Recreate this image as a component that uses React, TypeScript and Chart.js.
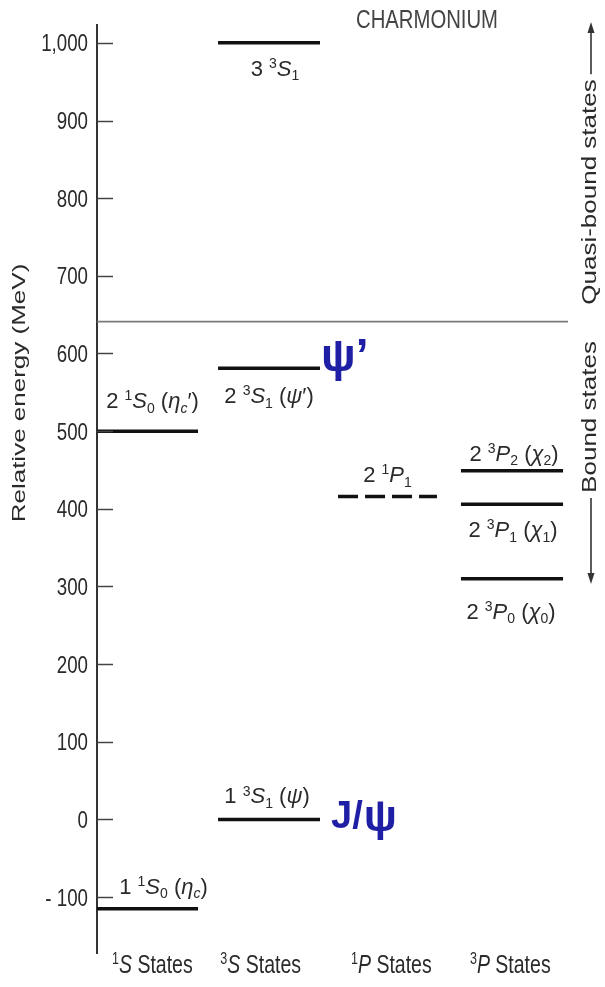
import { useEffect, useRef } from 'react';
import { Chart, registerables } from 'chart.js';

Chart.register(...registerables);

// ---------- data ----------
const categories = ['^1*S* States', '^3*S* States', '^1*P* States', '^3*P* States'];
const yTickValues = [-100, 0, 100, 200, 300, 400, 500, 600, 700, 800, 900, 1000];
const levelNames = [
  '1 ^1*S*_0 (*η_c*)',
  '2 ^1*S*_0 (*η_c*′)',
  '1 ^3*S*_1 (*ψ*)',
  '2 ^3*S*_1 (*ψ*′)',
  '3 ^3*S*_1',
  '2 ^1*P*_1',
  '2 ^3*P*_2 (*χ*_2)',
  '2 ^3*P*_1 (*χ*_1)',
  '2 ^3*P*_0 (*χ*_0)',
];
const levelEnergies = [-115, 500, 0, 581, 1000, 416, 449, 406, 310];
const levelColumns = [0, 0, 1, 1, 1, 2, 3, 3, 3];
const levelDashed = [false, false, false, false, false, true, false, false, false];
const thresholdEnergy = 641;
const chartTitle = 'CHARMONIUM';
const yAxisTitle = 'Relative energy (MeV)';
const regionLabels = ['Quasi-bound states', 'Bound states'];
const highlightNames = ['ψ’', 'J/ψ'];
const highlightLevels = [3, 2];

// ---------- layout / style ----------
const W = 605;
const H = 987;
const FAMILY = "'Liberation Sans', Arial, sans-serif";
const X_MIN = 0;
const X_MAX = 4;
const Y_MIN = -172;
const Y_MAX = 1023;
const COLUMN_SPANS = [
  [0, 0.858],
  [1.028, 1.894],
  [2.047, 2.887],
  [3.091, 3.958],
];
const CATEGORY_X = [0.47, 1.39, 2.5, 3.51];
// label placement relative to its level line: [dx px, baseline dy px]
const LABEL_OFFSETS = [
  [16, -15],
  [5, -23],
  [-2, -16],
  [0, 35],
  [6, 33],
  [0, -14],
  [2, -10],
  [1, 33],
  [-1, 40],
];
const INK = '#111';
const TEXT = '#2a2a2a';
const BLUE = '#1f1fa6';

type Seg = { t: string; it: boolean; pos: number };

function parseRich(s: string): Seg[] {
  const out: Seg[] = [];
  let it = false;
  for (let i = 0; i < s.length; i++) {
    const c = s[i];
    if (c === '*') {
      it = !it;
      continue;
    }
    let pos = 0;
    let ch = c;
    if ((c === '^' || c === '_') && i + 1 < s.length) {
      pos = c === '^' ? 1 : -1;
      i++;
      ch = s[i];
    }
    const last = out[out.length - 1];
    if (last && last.it === it && last.pos === pos) last.t += ch;
    else out.push({ t: ch, it, pos });
  }
  return out;
}

function drawRich(
  ctx: CanvasRenderingContext2D,
  s: string,
  x: number,
  y: number,
  size: number,
  align: string,
  sx: number,
  color: string
) {
  const segs = parseRich(s);
  ctx.save();
  ctx.translate(x, y);
  ctx.scale(sx, 1);
  ctx.fillStyle = color;
  ctx.textBaseline = 'alphabetic';
  ctx.textAlign = 'left';
  const fontOf = (g: Seg) =>
    `${g.it ? 'italic ' : ''}${g.pos ? Math.round(size * 0.62) : size}px ${FAMILY}`;
  const ws: number[] = [];
  let total = 0;
  for (const g of segs) {
    ctx.font = fontOf(g);
    const w = ctx.measureText(g.t).width;
    ws.push(w);
    total += w;
  }
  let cx = align === 'center' ? -total / 2 : align === 'right' ? -total : 0;
  segs.forEach((g, i) => {
    ctx.font = fontOf(g);
    const dy = g.pos === 1 ? -size * 0.36 : g.pos === -1 ? size * 0.2 : 0;
    ctx.fillText(g.t, cx, dy);
    cx += ws[i];
  });
  ctx.restore();
}

function drawVertical(
  ctx: CanvasRenderingContext2D,
  s: string,
  x: number,
  y: number,
  size: number,
  across: number,
  color: string
) {
  ctx.save();
  ctx.translate(x, y);
  ctx.rotate(-Math.PI / 2);
  ctx.scale(1, across);
  ctx.fillStyle = color;
  ctx.font = `${size}px ${FAMILY}`;
  ctx.textAlign = 'center';
  ctx.textBaseline = 'middle';
  ctx.fillText(s, 0, 0);
  const w = ctx.measureText(s).width;
  ctx.restore();
  return w;
}

function arrow(ctx: CanvasRenderingContext2D, x: number, y0: number, y1: number, color: string) {
  // line from y0 to y1, head at y1
  const dir = y1 > y0 ? 1 : -1;
  ctx.save();
  ctx.strokeStyle = color;
  ctx.fillStyle = color;
  ctx.lineWidth = 1.6;
  ctx.beginPath();
  ctx.moveTo(x, y0);
  ctx.lineTo(x, y1 - dir * 8);
  ctx.stroke();
  ctx.beginPath();
  ctx.moveTo(x, y1);
  ctx.lineTo(x - 3.5, y1 - dir * 11);
  ctx.lineTo(x + 3.5, y1 - dir * 11);
  ctx.closePath();
  ctx.fill();
  ctx.restore();
}

const annotationPlugin = {
  id: 'charmoniumAnnotations',
  afterDraw(chart: any) {
    const ctx: CanvasRenderingContext2D = chart.ctx;
    const xs = chart.scales.x;
    const ys = chart.scales.y;
    const area = chart.chartArea;

    // inner tick marks + tick labels
    ctx.save();
    ctx.strokeStyle = '#444';
    ctx.lineWidth = 1.5;
    yTickValues.forEach((v) => {
      const py = Math.round(ys.getPixelForValue(v)) + 0.5;
      ctx.beginPath();
      ctx.moveTo(area.left, py);
      ctx.lineTo(area.left + 16, py);
      ctx.stroke();
    });
    ctx.restore();
    yTickValues.forEach((v) => {
      const py = ys.getPixelForValue(v);
      const label = v < 0 ? '- ' + Math.abs(v) : v.toLocaleString('en-US');
      drawRich(ctx, label, area.left - 9, py + 8.5, 24, 'right', 0.78, TEXT);
    });

    // category labels
    categories.forEach((c, i) => {
      drawRich(ctx, c, xs.getPixelForValue(CATEGORY_X[i]), 973, 25, 'center', 0.78, TEXT);
    });

    // level labels
    levelNames.forEach((name, i) => {
      const span = COLUMN_SPANS[levelColumns[i]];
      const cx = (xs.getPixelForValue(span[0]) + xs.getPixelForValue(span[1])) / 2;
      const py = ys.getPixelForValue(levelEnergies[i]);
      const [dx, dy] = LABEL_OFFSETS[i];
      drawRich(ctx, name, cx + dx, py + dy, 22, 'center', 1.0, TEXT);
    });

    // highlighted names (blue)
    {
      const i = highlightLevels[0];
      const span = COLUMN_SPANS[levelColumns[i]];
      const x = xs.getPixelForValue(span[1]) + 1;
      const py = ys.getPixelForValue(levelEnergies[i]);
      ctx.save();
      ctx.fillStyle = BLUE;
      ctx.textAlign = 'left';
      ctx.textBaseline = 'alphabetic';
      ctx.font = `bold 46px ${FAMILY}`;
      ctx.fillText(highlightNames[0], x, py + 3);
      ctx.restore();
    }
    {
      const i = highlightLevels[1];
      const span = COLUMN_SPANS[levelColumns[i]];
      const x = xs.getPixelForValue(span[1]) + 11;
      const py = ys.getPixelForValue(levelEnergies[i]);
      const txt = highlightNames[1];
      ctx.save();
      ctx.fillStyle = BLUE;
      ctx.textAlign = 'left';
      ctx.textBaseline = 'alphabetic';
      ctx.font = `bold 38px ${FAMILY}`;
      const head = txt.slice(0, 2);
      ctx.fillText(head, x, py + 9);
      const hw = ctx.measureText(head).width;
      ctx.font = `bold 44px ${FAMILY}`;
      ctx.fillText(txt.slice(2), x + hw + 1, py + 12);
      ctx.restore();
    }

    // title
    drawRich(ctx, chartTitle, 427, 28, 26, 'center', 0.78, '#444');

    // y axis title
    drawVertical(ctx, yAxisTitle, 20, 393, 26, 0.74, TEXT);

    // right side region labels with arrows
    const rx = 591;
    const q = drawVertical(ctx, regionLabels[0], rx, 192, 26, 0.76, TEXT);
    arrow(ctx, rx, 192 - q / 2 - 5, 22, '#333');
    const b = drawVertical(ctx, regionLabels[1], rx, 417, 26, 0.76, TEXT);
    arrow(ctx, rx, 417 + b / 2 + 5, 584, '#333');
  },
};

export default function App() {
  const ref = useRef<HTMLCanvasElement | null>(null);

  useEffect(() => {
    if (!ref.current) return;
    const datasets: any[] = levelEnergies.map((e, i) => {
      const span = COLUMN_SPANS[levelColumns[i]];
      return {
        label: levelNames[i],
        data: [
          { x: span[0], y: e },
          { x: span[1], y: e },
        ],
        borderColor: INK,
        borderWidth: 3.5,
        borderDash: levelDashed[i] ? [20, 7] : [],
        borderCapStyle: 'butt',
        pointRadius: 0,
        fill: false,
        tension: 0,
      };
    });
    datasets.push({
      label: 'threshold',
      data: [
        { x: X_MIN, y: thresholdEnergy },
        { x: X_MAX, y: thresholdEnergy },
      ],
      borderColor: '#7a7a7a',
      borderWidth: 1.6,
      pointRadius: 0,
      fill: false,
    });

    const chart = new Chart(ref.current, {
      type: 'line',
      data: { datasets },
      options: {
        animation: false,
        responsive: true,
        maintainAspectRatio: false,
        devicePixelRatio: 1,
        layout: { padding: { top: 25, bottom: 34, left: 0, right: 37 } },
        plugins: {
          legend: { display: false },
          tooltip: { enabled: false },
          title: { display: false },
        },
        events: [],
        scales: {
          x: {
            type: 'linear',
            min: X_MIN,
            max: X_MAX,
            display: false,
          },
          y: {
            type: 'linear',
            min: Y_MIN,
            max: Y_MAX,
            position: 'left',
            grid: { display: false },
            border: { display: true, color: '#333', width: 2 },
            ticks: { display: false },
            afterBuildTicks: (scale: any) => {
              scale.ticks = yTickValues.map((v) => ({ value: v }));
            },
            afterFit: (scale: any) => {
              scale.width = 97;
            },
          },
        },
      } as any,
      plugins: [annotationPlugin],
    });
    return () => chart.destroy();
  }, []);

  return (
    <div style={{ position: 'fixed', left: 0, top: 0, width: W, height: H, background: '#fff' }}>
      <canvas ref={ref} />
    </div>
  );
}
